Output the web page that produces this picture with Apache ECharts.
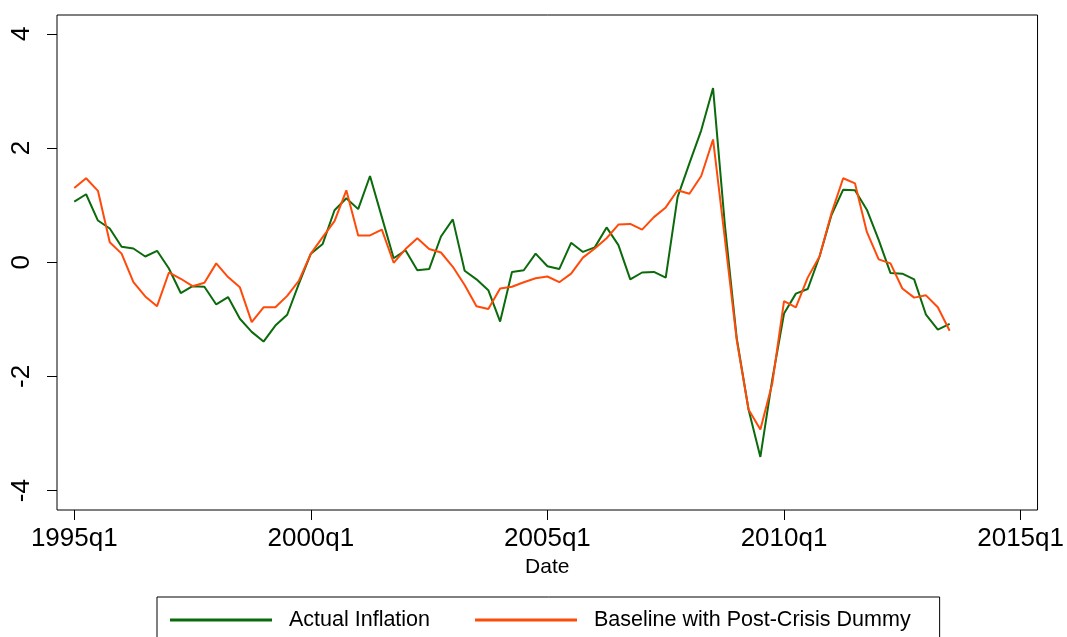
<!DOCTYPE html>
<html>
<head>
<meta charset="utf-8">
<script src="https://cdn.jsdelivr.net/npm/echarts@6/dist/echarts.min.js"></script>
<style>
  html, body { margin: 0; padding: 0; background: #fff; }
  #chart { width: 1067px; height: 637px; }
</style>
</head>
<body>
<div id="chart"></div>
<script>
// quarters counted from 1995q1 (index 0) to 2013q3 (index 74)
const startYear = 1995
const tickQuarters = [0, 20, 40, 60, 80]
const yTicks = [-4, -2, 0, 2, 4]

const actualInflation = [
  1.06, 1.19, 0.73, 0.59, 0.27, 0.24, 0.10, 0.20, -0.11, -0.54,
  -0.42, -0.43, -0.74, -0.61, -0.99, -1.22, -1.39, -1.11, -0.92, -0.37,
  0.15, 0.32, 0.91, 1.12, 0.93, 1.51, 0.79, 0.07, 0.21, -0.14,
  -0.12, 0.45, 0.75, -0.15, -0.30, -0.49, -1.04, -0.17, -0.14, 0.15,
  -0.07, -0.12, 0.34, 0.18, 0.26, 0.61, 0.30, -0.30, -0.18, -0.17,
  -0.27, 1.14, 1.73, 2.31, 3.05, 0.65, -1.33, -2.58, -3.41, -2.06,
  -0.90, -0.55, -0.47, 0.10, 0.82, 1.27, 1.26, 0.92, 0.39, -0.19,
  -0.20, -0.30, -0.92, -1.18, -1.08
]
const baselineDummy = [
  1.30, 1.47, 1.25, 0.35, 0.15, -0.35, -0.60, -0.77, -0.18, -0.29,
  -0.42, -0.36, -0.02, -0.26, -0.44, -1.05, -0.79, -0.79, -0.59, -0.32,
  0.15, 0.44, 0.72, 1.26, 0.47, 0.47, 0.57, -0.01, 0.23, 0.42,
  0.23, 0.17, -0.08, -0.40, -0.77, -0.82, -0.46, -0.43, -0.35, -0.28,
  -0.25, -0.35, -0.20, 0.08, 0.24, 0.42, 0.66, 0.67, 0.57, 0.79,
  0.96, 1.26, 1.20, 1.51, 2.15, 0.41, -1.36, -2.58, -2.93, -2.13,
  -0.68, -0.79, -0.27, 0.10, 0.85, 1.47, 1.38, 0.53, 0.05, -0.02,
  -0.46, -0.62, -0.58, -0.79, -1.20
]

const quarterLabel = q => (startYear + Math.floor(q / 4)) + 'q' + (q % 4 + 1)
const toPoints = arr => arr.map((v, i) => [i, v])

const font = '"Liberation Sans", Arial, sans-serif'

const myChart = echarts.init(document.getElementById('chart'))

const option = {
  animation: false,
  backgroundColor: '#fff',
  grid: {
    left: 57,
    right: 27,
    top: 15,
    bottom: 127,
    show: true,
    borderColor: '#000',
    borderWidth: 1
  },
  xAxis: {
    type: 'value',
    min: -1.46,
    max: 81.43,
    name: 'Date',
    nameLocation: 'middle',
    nameGap: 45,
    nameTextStyle: { fontFamily: font, fontSize: 21, color: '#000' },
    axisLine: { show: false, onZero: false },
    axisTick: {
      show: true,
      inside: false,
      length: 10,
      customValues: tickQuarters,
      lineStyle: { color: '#000', width: 1 }
    },
    axisLabel: {
      customValues: tickQuarters,
      formatter: v => quarterLabel(v),
      fontFamily: font,
      fontSize: 26,
      color: '#000',
      margin: 16
    },
    splitLine: { show: false }
  },
  yAxis: {
    type: 'value',
    min: -4.34,
    max: 4.33,
    axisLine: { show: false, onZero: false },
    axisTick: {
      show: true,
      inside: false,
      length: 10,
      customValues: yTicks,
      lineStyle: { color: '#000', width: 1 }
    },
    axisLabel: {
      customValues: yTicks,
      rotate: 90,
      fontFamily: font,
      fontSize: 26,
      color: '#000',
      margin: 22
    },
    splitLine: { show: false }
  },
  legend: {
    left: 157,
    top: 597,
    orient: 'horizontal',
    icon: 'rect',
    itemWidth: 102,
    itemHeight: 3,
    itemGap: 45,
    padding: [12, 29, 12, 13],
    borderColor: '#000',
    borderWidth: 1,
    textStyle: {
      fontFamily: font,
      fontSize: 21.5,
      color: '#000',
      padding: [0, 0, 0, 12]
    },
    data: ['Actual Inflation', 'Baseline with Post-Crisis Dummy']
  },
  series: [
    {
      name: 'Actual Inflation',
      type: 'line',
      data: toPoints(actualInflation),
      showSymbol: false,
      itemStyle: { color: '#0b6a0b' },
      lineStyle: { color: '#0b6a0b', width: 2 }
    },
    {
      name: 'Baseline with Post-Crisis Dummy',
      type: 'line',
      data: toPoints(baselineDummy),
      showSymbol: false,
      itemStyle: { color: '#ff4a0a' },
      lineStyle: { color: '#ff4a0a', width: 2 }
    }
  ]
}

myChart.setOption(option)

window.onresize = function () {
  myChart.resize()
}
</script>
</body>
</html>
